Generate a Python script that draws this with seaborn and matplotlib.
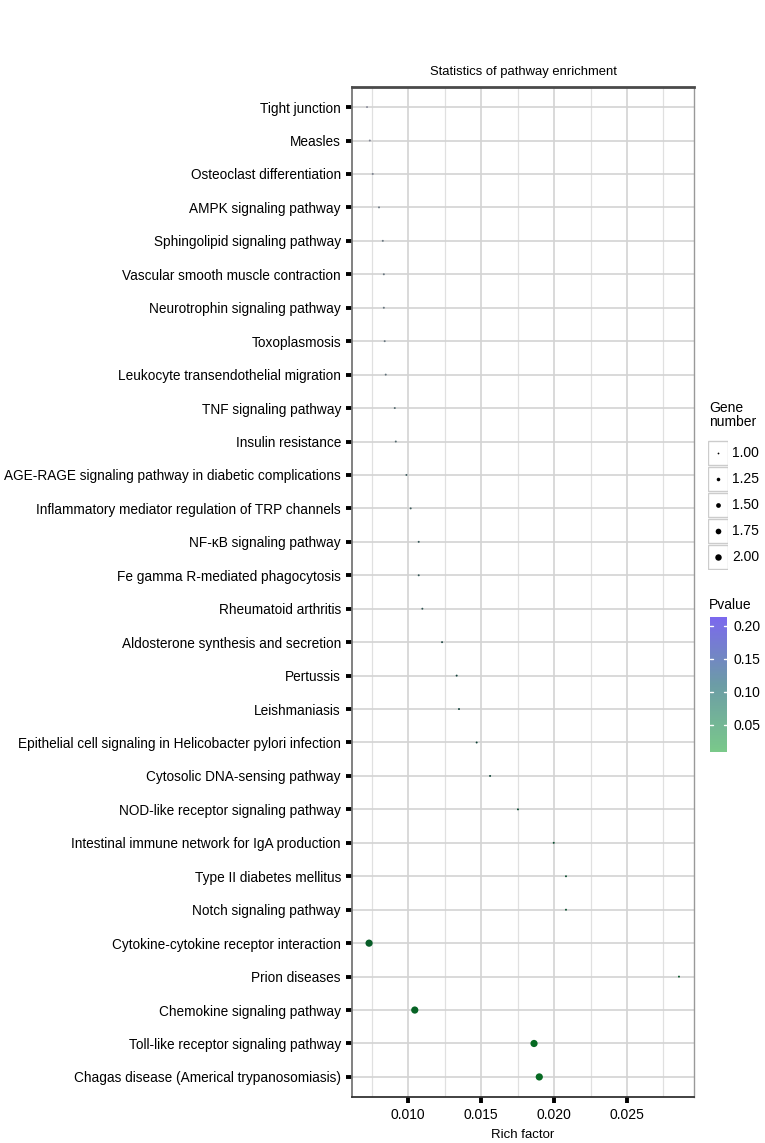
import numpy as np
import pandas as pd
import seaborn as sns
import matplotlib.pyplot as plt
from matplotlib.colors import LinearSegmentedColormap, Normalize
from matplotlib.cm import ScalarMappable
from matplotlib.patches import Rectangle

# pathway enrichment data (top to bottom as shown)
pathways = [
    "Tight junction", "Measles", "Osteoclast differentiation", "AMPK signaling pathway",
    "Sphingolipid signaling pathway", "Vascular smooth muscle contraction",
    "Neurotrophin signaling pathway", "Toxoplasmosis", "Leukocyte transendothelial migration",
    "TNF signaling pathway", "Insulin resistance",
    "AGE-RAGE signaling pathway in diabetic complications",
    "Inflammatory mediator regulation of TRP channels", "NF-κB signaling pathway",
    "Fe gamma R-mediated phagocytosis", "Rheumatoid arthritis",
    "Aldosterone synthesis and secretion", "Pertussis", "Leishmaniasis",
    "Epithelial cell signaling in Helicobacter pylori infection",
    "Cytosolic DNA-sensing pathway", "NOD-like receptor signaling pathway",
    "Intestinal immune network for IgA production", "Type II diabetes mellitus",
    "Notch signaling pathway", "Cytokine-cytokine receptor interaction", "Prion diseases",
    "Chemokine signaling pathway", "Toll-like receptor signaling pathway",
    "Chagas disease (Americal trypanosomiasis)",
]
rich_factor = [
    0.00719, 0.00738, 0.00758, 0.00801, 0.00827, 0.00834, 0.00834, 0.00840, 0.00847,
    0.00909, 0.00916, 0.00989, 0.01018, 0.01073, 0.01073, 0.01098, 0.01233, 0.01333,
    0.01349, 0.01470, 0.01562, 0.01753, 0.01998, 0.02082, 0.02082, 0.00733, 0.02856,
    0.01046, 0.01863, 0.01899,
]
gene_number = [1] * 25 + [2, 1, 2, 2, 2]
pvalue = [
    0.210, 0.205, 0.200, 0.190, 0.185, 0.183, 0.183, 0.182, 0.180, 0.168, 0.167,
    0.155, 0.151, 0.144, 0.144, 0.141, 0.126, 0.117, 0.115, 0.106, 0.100, 0.089,
    0.078, 0.075, 0.075, 0.040, 0.056, 0.025, 0.0095, 0.009,
]
size_levels = [1.00, 1.25, 1.50, 1.75, 2.00]
pval_ticks = [0.05, 0.10, 0.15, 0.20]

df = pd.DataFrame({"Pathway": pathways, "Rich factor": rich_factor,
                   "Gene number": gene_number, "Pvalue": pvalue})

sns.set_style("white")
plt.rcParams["font.family"] = ["Liberation Sans", "DejaVu Sans"]
plt.rcParams["text.color"] = "black"
plt.rcParams["xtick.color"] = "black"
plt.rcParams["ytick.color"] = "black"
plt.rcParams["axes.labelcolor"] = "black"

W, H = 765, 1143
fig = plt.figure(figsize=(W / 100, H / 100), dpi=100)
ax = fig.add_axes([352 / W, 1 - 1097 / H, (694 - 352) / W, (1097 - 87) / H])

bar_cmap = LinearSegmentedColormap.from_list("pv", ["#7AC98A", "#6C9CA6", "#7B68EE"])
pt_cmap = LinearSegmentedColormap.from_list("pvpt", ["#066A22", "#0E3E36", "#8C8C9C"])
pnorm = Normalize(vmin=0.009, vmax=0.213)
smin, smax = 2.0, 27.0

sns.scatterplot(data=df, x="Rich factor", y="Pathway", hue="Pvalue", palette=pt_cmap,
                hue_norm=pnorm, size="Gene number", sizes=(smin, smax), size_norm=(1, 2),
                linewidth=0, legend=False, ax=ax, zorder=3)

n = len(pathways)
ax.set_ylim(n - 1 + 0.6, -0.6)
ax.set_xlim(0.00616, 0.02959)
ax.set_xticks([0.010, 0.015, 0.020, 0.025])
ax.set_xticklabels(["0.010", "0.015", "0.020", "0.025"], fontsize=10)
ax.set_xticks(np.arange(0.0075, 0.0290, 0.0025), minor=True)
ax.grid(True, which="major", axis="both", color="#d3d3d3", linewidth=1.2)
ax.grid(True, which="minor", axis="x", color="#e0e0e0", linewidth=0.9)
ax.set_axisbelow(True)
ax.tick_params(axis="y", left=True, length=4, width=2.8, color="black", labelsize=9.8,
               pad=4)
ax.tick_params(axis="x", which="major", bottom=True, length=4, width=2.8, color="black",
               pad=4)
ax.tick_params(axis="x", which="minor", bottom=False, length=0)
ax.set_ylabel("")
ax.set_xlabel("Rich factor", fontsize=9.5, labelpad=5)
ax.set_title("Statistics of pathway enrichment", fontsize=9.4, pad=9)
ax.spines["top"].set_color("#4a4a4a")
ax.spines["top"].set_linewidth(2.0)
ax.spines["left"].set_color("#777777")
ax.spines["left"].set_linewidth(1.3)
ax.spines["right"].set_color("#999999")
ax.spines["right"].set_linewidth(1.0)
ax.spines["bottom"].set_color("#333333")
ax.spines["bottom"].set_linewidth(1.3)

# size legend (ggplot-style keys)
fig.text(709 / W, 1 - 415 / H, "Gene\nnumber", fontsize=10, va="center", ha="left",
         linespacing=1.05)
lax = fig.add_axes([708 / W, 1 - 570 / H, 20 / W, (570 - 440) / H])
lax.set_xlim(0, 1)
lax.set_ylim(len(size_levels), 0)
lax.axis("off")
for i, v in enumerate(size_levels):
    lax.add_patch(Rectangle((0, i + 0.02), 1, 0.96, facecolor="white",
                            edgecolor="#cccccc", linewidth=1.0))
    s = smin + (v - 1) * (smax - smin)
    lax.scatter([0.5], [i + 0.5], s=s * 0.8, color="black", linewidth=0)
    fig.text(732 / W, 1 - (440 + (i + 0.5) * 26) / H, f"{v:.2f}", fontsize=10,
             va="center", ha="left")

# colour bar
fig.text(709 / W, 1 - 605 / H, "Pvalue", fontsize=10, va="center", ha="left")
cax = fig.add_axes([710 / W, 1 - 752 / H, 17 / W, (752 - 617) / H])
cb = fig.colorbar(ScalarMappable(norm=pnorm, cmap=bar_cmap), cax=cax, ticks=pval_ticks)
cb.outline.set_visible(False)
cb.ax.tick_params(right=True, length=0, labelsize=10, pad=5)
cb.ax.set_yticklabels([f"{t:.2f}" for t in pval_ticks])
for t in pval_ticks:
    cax.plot([0, 0.2], [t, t], color="white", lw=1, transform=cax.get_yaxis_transform())
    cax.plot([0.8, 1], [t, t], color="white", lw=1, transform=cax.get_yaxis_transform())

fig.savefig("out.png", dpi=100)
